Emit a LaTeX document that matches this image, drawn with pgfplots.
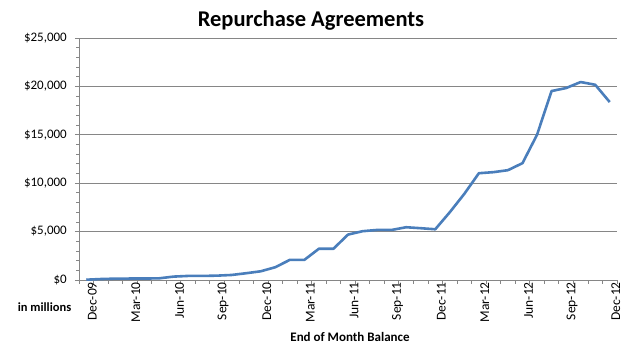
\documentclass[border=0pt]{standalone}
\usepackage{pgfplots}
\pgfplotsset{compat=1.18}
\usepackage{fontspec}
\setmainfont{Carlito}
\definecolor{linecol}{HTML}{4A7EBB}
\definecolor{gridcol}{HTML}{868686}
\begin{document}
\begin{tikzpicture}
\useasboundingbox (0,0) rectangle (644pt,352pt);
\begin{axis}[
  at={(79pt,72pt)}, anchor=south west,
  scale only axis, width=538pt, height=242pt,
  xmin=-0.5, xmax=36.5, ymin=0, ymax=25000,
  scaled y ticks=false,
  axis lines*=left,
  axis line style={gridcol, line width=0.8pt, -},
  ytick={0,5000,...,25000},
  yticklabels={\$0,{\$5,000},{\$10,000},{\$15,000},{\$20,000},{\$25,000}},
  minor y tick num=4,
  ymajorgrids, grid style={gridcol, line width=0.8pt},
  tick align=outside,
  major tick length=4pt, minor tick length=3pt,
  tick style={gridcol, line width=0.8pt},
  xtick={-0.5,0.5,...,36.5}, xticklabels={},
  extra x ticks={0,3,...,36},
  extra x tick labels={Dec-09,Mar-10,Jun-10,Sep-10,Dec-10,Mar-11,Jun-11,Sep-11,Dec-11,Mar-12,Jun-12,Sep-12,Dec-12},
  extra x tick style={major tick length=0pt, xticklabel style={rotate=90, anchor=east, font=\fontsize{13.5}{14}\selectfont, inner sep=2pt, yshift=-6pt}},
  yticklabel style={font=\fontsize{13}{14}\selectfont, text=black, inner sep=2pt, xshift=-6pt},
  clip=false,
]
\addplot[linecol, line width=2.6pt, line join=round] coordinates {
(0,30) (1,100) (2,140) (3,150) (4,150) (5,170) (6,350) (7,420) (8,420) (9,450)
(10,520) (11,700) (12,900) (13,1320) (14,2080) (15,2080) (16,3230) (17,3230) (18,4690) (19,5040)
(20,5170) (21,5170) (22,5450) (23,5350) (24,5240) (25,7000) (26,8900) (27,11030) (28,11140) (29,11345)
(30,12070) (31,15000) (32,19520) (33,19830) (34,20450) (35,20170) (36,18380)
};
\end{axis}
\node[font=\bfseries\fontsize{22.5}{24}\selectfont] at (311pt,331pt) {Repurchase Agreements};
\node[font=\bfseries\fontsize{12.5}{13}\selectfont] at (44.5pt,45pt) {in millions};
\node[font=\bfseries\fontsize{13}{14}\selectfont] at (350pt,15pt) {End of Month Balance};
\end{tikzpicture}
\end{document}
